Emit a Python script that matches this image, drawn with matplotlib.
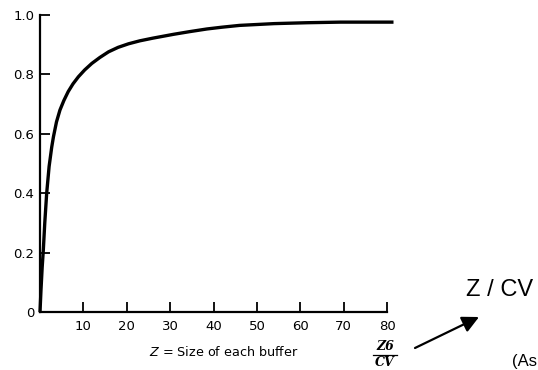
import matplotlib.pyplot as plt
from matplotlib.lines import Line2D

# values
z = [0, 0.23, 0.5, 0.77, 1.1, 1.54, 2.1, 2.7, 3.1, 3.8, 4.6, 5.5, 6.5, 7.6, 8.85,
     10.3, 11.95, 13.8, 15.8, 18, 20.4, 23, 26, 30.8, 34.5, 38.5, 42, 46, 50, 54,
     61.6, 69.3, 75, 81.5]
frac = [0, 0.075, 0.15, 0.21, 0.30, 0.40, 0.49, 0.555, 0.59, 0.64, 0.68, 0.712,
        0.742, 0.768, 0.792, 0.815, 0.837, 0.857, 0.876, 0.891, 0.903, 0.913,
        0.922, 0.935, 0.944, 0.953, 0.959, 0.965, 0.968, 0.971, 0.974, 0.976,
        0.976, 0.976]
xticks = [10, 20, 30, 40, 50, 60, 70, 80]
yticks = [0, 0.2, 0.4, 0.6, 0.8, 1.0]
ytick_labels = ["0", "0.2", "0.4", "0.6", "0.8", "1.0"]

W, H = 538, 370


def fx(px):
    return px / W


def fy(py):
    return 1 - py / H


fig = plt.figure(figsize=(W / 100, H / 100), dpi=100)
ax = fig.add_axes([fx(40), fy(312), fx(387) - fx(40), fy(15) - fy(312)])

ax.plot(z, frac, color="black", linewidth=2.4, clip_on=False,
        solid_joinstyle="round", solid_capstyle="butt")
ax.set_xlim(0, 80)
ax.set_ylim(0, 1.0)

ax.set_xticks(xticks)
ax.set_xticklabels([str(t) for t in xticks])
ax.set_yticks(yticks)
ax.set_yticklabels(ytick_labels)
ax.tick_params(direction="in", length=7.5, width=1.3, labelsize=9.5, pad=4)
ax.tick_params(axis="x", pad=6)

for s in ["top", "right"]:
    ax.spines[s].set_visible(False)
for s in ["left", "bottom"]:
    ax.spines[s].set_linewidth(1.6)

fig.text(fx(224), fy(352), "$Z$ = Size of each buffer", ha="center", va="center",
         fontsize=9.2)

# Z6 / CV fraction under the 80 tick
fig.text(fx(385), fy(347), "Z6", ha="center", va="center", fontsize=9,
         family="DejaVu Serif", style="italic", fontweight="bold")
fig.text(fx(385), fy(363), "CV", ha="center", va="center", fontsize=9,
         family="DejaVu Serif", style="italic", fontweight="bold")
fig.add_artist(Line2D([fx(373), fx(397)], [fy(355), fy(355)], color="black",
                      linewidth=0.9, transform=fig.transFigure))

fig.text(fx(500), fy(290), "Z / CV", ha="center", va="center", fontsize=17,
         family="Liberation Sans")
fig.text(fx(512), fy(354), "(As", ha="left", va="top", fontsize=12,
         family="Liberation Sans")

ax.annotate("", xy=(fx(479), fy(317)), xycoords="figure fraction",
            xytext=(fx(415), fy(348)), textcoords="figure fraction",
            arrowprops=dict(arrowstyle="-|>,head_length=1.0,head_width=0.5",
                            color="black", lw=1.6, shrinkA=0, shrinkB=0))

fig.savefig("out.png", dpi=100)
